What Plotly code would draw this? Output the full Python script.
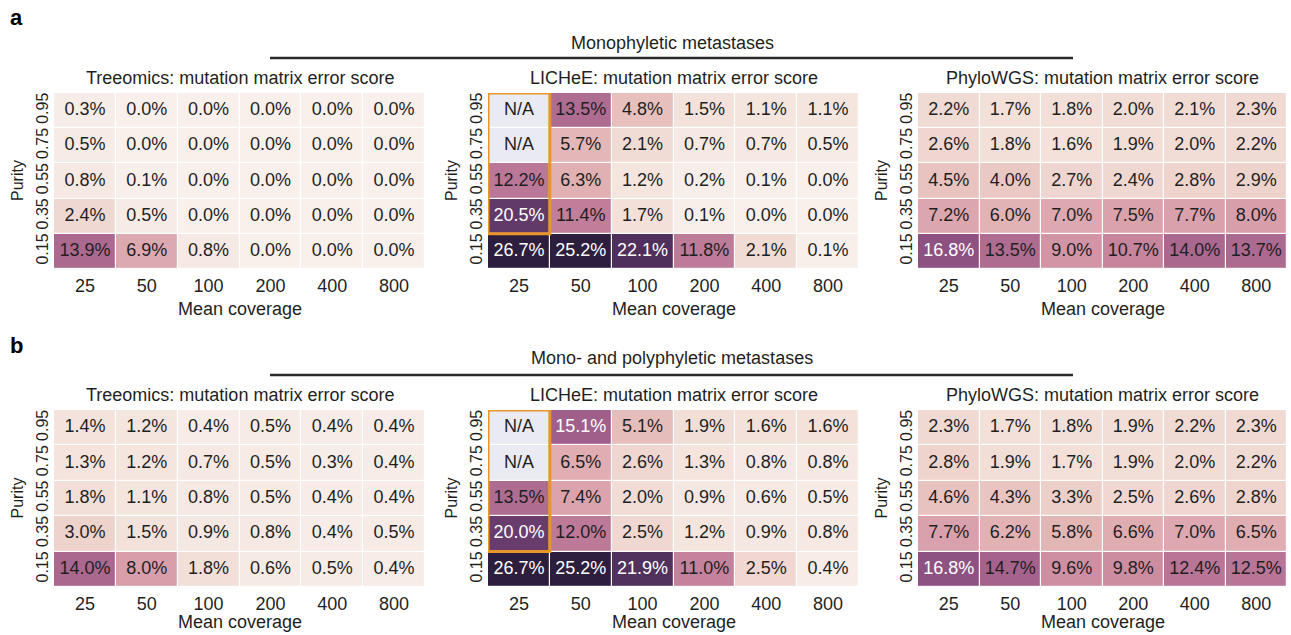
import numpy as np
import plotly.graph_objects as go

W, H = 1291, 635

coverage = ["25", "50", "100", "200", "400", "800"]
purity = ["0.15", "0.35", "0.55", "0.75", "0.95"]

# rows listed from top (purity 0.95) to bottom (purity 0.15); None = N/A
a_treeomics = [
    [0.3, 0.0, 0.0, 0.0, 0.0, 0.0],
    [0.5, 0.0, 0.0, 0.0, 0.0, 0.0],
    [0.8, 0.1, 0.0, 0.0, 0.0, 0.0],
    [2.4, 0.5, 0.0, 0.0, 0.0, 0.0],
    [13.9, 6.9, 0.8, 0.0, 0.0, 0.0],
]
a_lichee = [
    [None, 13.5, 4.8, 1.5, 1.1, 1.1],
    [None, 5.7, 2.1, 0.7, 0.7, 0.5],
    [12.2, 6.3, 1.2, 0.2, 0.1, 0.0],
    [20.5, 11.4, 1.7, 0.1, 0.0, 0.0],
    [26.7, 25.2, 22.1, 11.8, 2.1, 0.1],
]
a_phylowgs = [
    [2.2, 1.7, 1.8, 2.0, 2.1, 2.3],
    [2.6, 1.8, 1.6, 1.9, 2.0, 2.2],
    [4.5, 4.0, 2.7, 2.4, 2.8, 2.9],
    [7.2, 6.0, 7.0, 7.5, 7.7, 8.0],
    [16.8, 13.5, 9.0, 10.7, 14.0, 13.7],
]
b_treeomics = [
    [1.4, 1.2, 0.4, 0.5, 0.4, 0.4],
    [1.3, 1.2, 0.7, 0.5, 0.3, 0.4],
    [1.8, 1.1, 0.8, 0.5, 0.4, 0.4],
    [3.0, 1.5, 0.9, 0.8, 0.4, 0.5],
    [14.0, 8.0, 1.8, 0.6, 0.5, 0.4],
]
b_lichee = [
    [None, 15.1, 5.1, 1.9, 1.6, 1.6],
    [None, 6.5, 2.6, 1.3, 0.8, 0.8],
    [13.5, 7.4, 2.0, 0.9, 0.6, 0.5],
    [20.0, 12.0, 2.5, 1.2, 0.9, 0.8],
    [26.7, 25.2, 21.9, 11.0, 2.5, 0.4],
]
b_phylowgs = [
    [2.3, 1.7, 1.8, 1.9, 2.2, 2.3],
    [2.8, 1.9, 1.7, 1.9, 2.0, 2.2],
    [4.6, 4.3, 3.3, 2.5, 2.6, 2.8],
    [7.7, 6.2, 5.8, 6.6, 7.0, 6.5],
    [16.8, 14.7, 9.6, 9.8, 12.4, 12.5],
]

panel_titles = ["Treeomics: mutation matrix error score",
                "LICHeE: mutation matrix error score",
                "PhyloWGS: mutation matrix error score"]
group_titles = ["Monophyletic metastases", "Mono- and polyphyletic metastases"]

ZMAX = 25.0
FONT = "Liberation Sans, Arial, Helvetica, sans-serif"
TXT = "#1f1f1f"


def cubehelix_scale(n=64, start=0.0, rot=0.4, gamma=1.0, hue=0.8, light=0.95, dark=0.15):
    out = []
    for i in range(n):
        t = i / (n - 1)
        x = light + (dark - light) * t
        xg = x ** gamma
        a = hue * xg * (1 - xg) / 2
        phi = 2 * np.pi * (start / 3 + rot * x)
        r = xg + a * (-0.14861 * np.cos(phi) + 1.78277 * np.sin(phi))
        g = xg + a * (-0.29227 * np.cos(phi) - 0.90649 * np.sin(phi))
        b = xg + a * (1.97294 * np.cos(phi))
        rgb = [int(round(255 * min(max(v, 0), 1))) for v in (r, g, b)]
        out.append([t, "rgb(%d,%d,%d)" % tuple(rgb)])
    return out


CS = cubehelix_scale()

# pixel layout of heatmaps: (left, right) per column, (top, bottom) per row
cols_px = [(54, 425), (488, 859), (918, 1287)]
rows_px = [(93, 269), (410, 587)]


def xd(p0, p1):
    return [p0 / W, p1 / W]


def yd(p0, p1):
    return [1 - p1 / H, 1 - p0 / H]


fig = go.Figure()
annotations = []
shapes = []

datasets = [[a_treeomics, a_lichee, a_phylowgs], [b_treeomics, b_lichee, b_phylowgs]]

k = 0
for ri, row in enumerate(datasets):
    top, bot = rows_px[ri]
    for ci, data in enumerate(row):
        k += 1
        left, right = cols_px[ci]
        xa = "x" if k == 1 else "x%d" % k
        ya = "y" if k == 1 else "y%d" % k
        rows_bottom_up = data[::-1]
        z = [[v for v in r] for r in rows_bottom_up]
        na = [[1 if v is None else None for v in r] for r in rows_bottom_up]
        xs = list(range(len(coverage)))
        ys = list(range(len(purity)))
        fig.add_trace(go.Heatmap(z=z, x=xs, y=ys, zmin=0, zmax=ZMAX, colorscale=CS,
                                 showscale=False, xgap=1.2, ygap=1.2, hoverinfo="skip",
                                 xaxis=xa, yaxis=ya))
        if any(v is not None for r in na for v in r):
            fig.add_trace(go.Heatmap(z=na, x=xs, y=ys, zmin=0, zmax=1,
                                     colorscale=[[0, "#eaeaf2"], [1, "#eaeaf2"]],
                                     showscale=False, xgap=1.2, ygap=1.2, hoverinfo="skip",
                                     xaxis=xa, yaxis=ya))
        tx, ty, tt, tc = [], [], [], []
        for yi, r in enumerate(rows_bottom_up):
            for xi, v in enumerate(r):
                tx.append(xi)
                ty.append(yi)
                if v is None:
                    tt.append("N/A")
                    tc.append(TXT)
                else:
                    tt.append("%.1f%%" % v)
                    tc.append("white" if v >= 15 else TXT)
        fig.add_trace(go.Scatter(x=tx, y=ty, text=tt, mode="text",
                                 textfont=dict(size=18, color=tc, family=FONT),
                                 hoverinfo="skip", showlegend=False, cliponaxis=False,
                                 xaxis=xa, yaxis=ya))
        xkey = "xaxis" if k == 1 else "xaxis%d" % k
        ykey = "yaxis" if k == 1 else "yaxis%d" % k
        fig.update_layout({
            xkey: dict(domain=xd(left, right), anchor=ya, range=[-0.5, 5.5],
                       tickvals=xs, ticktext=coverage, showgrid=False, zeroline=False,
                       showline=False, ticks="", ticklabelstandoff=4,
                       tickfont=dict(size=18, color=TXT, family=FONT), fixedrange=True),
            ykey: dict(domain=yd(top, bot), anchor=xa, range=[-0.5, 4.5],
                       tickvals=ys, ticktext=purity, tickangle=-90, showgrid=False,
                       zeroline=False, showline=False, ticks="", ticklabelstandoff=2,
                       tickfont=dict(size=16, color=TXT, family=FONT), fixedrange=True),
        })
        cx = (left + right) / 2
        annotations.append(dict(x=cx / W, y=1 - (top - 15) / H, xref="paper", yref="paper",
                                text=panel_titles[ci], showarrow=False, xanchor="center",
                                yanchor="middle", font=dict(size=18, color=TXT, family=FONT)))
        annotations.append(dict(x=cx / W, y=1 - (bot + (40 if ri == 0 else 35)) / H,
                                xref="paper", yref="paper",
                                text="Mean coverage", showarrow=False, xanchor="center",
                                yanchor="middle", font=dict(size=18, color=TXT, family=FONT)))
        annotations.append(dict(x=(left - 37) / W, y=1 - ((top + bot) / 2) / H, xref="paper",
                                yref="paper", text="Purity", showarrow=False, textangle=-90,
                                xanchor="center", yanchor="middle",
                                font=dict(size=16, color=TXT, family=FONT)))
        if ci == 1:
            shapes.append(dict(type="rect", xref=xa, yref=ya, x0=-0.5, x1=0.5, y0=0.5, y1=4.5,
                               line=dict(color="#E8952A", width=3), fillcolor="rgba(0,0,0,0)"))

# group headers
for gi, (ty_px, ly_px) in enumerate([(43, 58), (358, 375)]):
    annotations.append(dict(x=672 / W, y=1 - ty_px / H, xref="paper", yref="paper",
                            text=group_titles[gi], showarrow=False, xanchor="center",
                            yanchor="middle", font=dict(size=18, color=TXT, family=FONT)))
    shapes.append(dict(type="line", xref="paper", yref="paper", x0=270 / W, x1=1073 / W,
                       y0=1 - ly_px / H, y1=1 - ly_px / H, line=dict(color="#2b2b2b", width=2.5)))

for lab, y_px in [("a", 18), ("b", 345)]:
    annotations.append(dict(x=16 / W, y=1 - y_px / H, xref="paper", yref="paper",
                            text="<b>%s</b>" % lab, showarrow=False, xanchor="center",
                            yanchor="middle", font=dict(size=22, color="black", family=FONT)))

fig.update_layout(width=W, height=H, margin=dict(l=0, r=0, t=0, b=0),
                  paper_bgcolor="white", plot_bgcolor="white", showlegend=False,
                  annotations=annotations, shapes=shapes, font=dict(family=FONT))

fig.write_html("out.html", config={"displayModeBar": False},
               post_script="document.body.style.margin='0';document.body.style.overflow='hidden';")
